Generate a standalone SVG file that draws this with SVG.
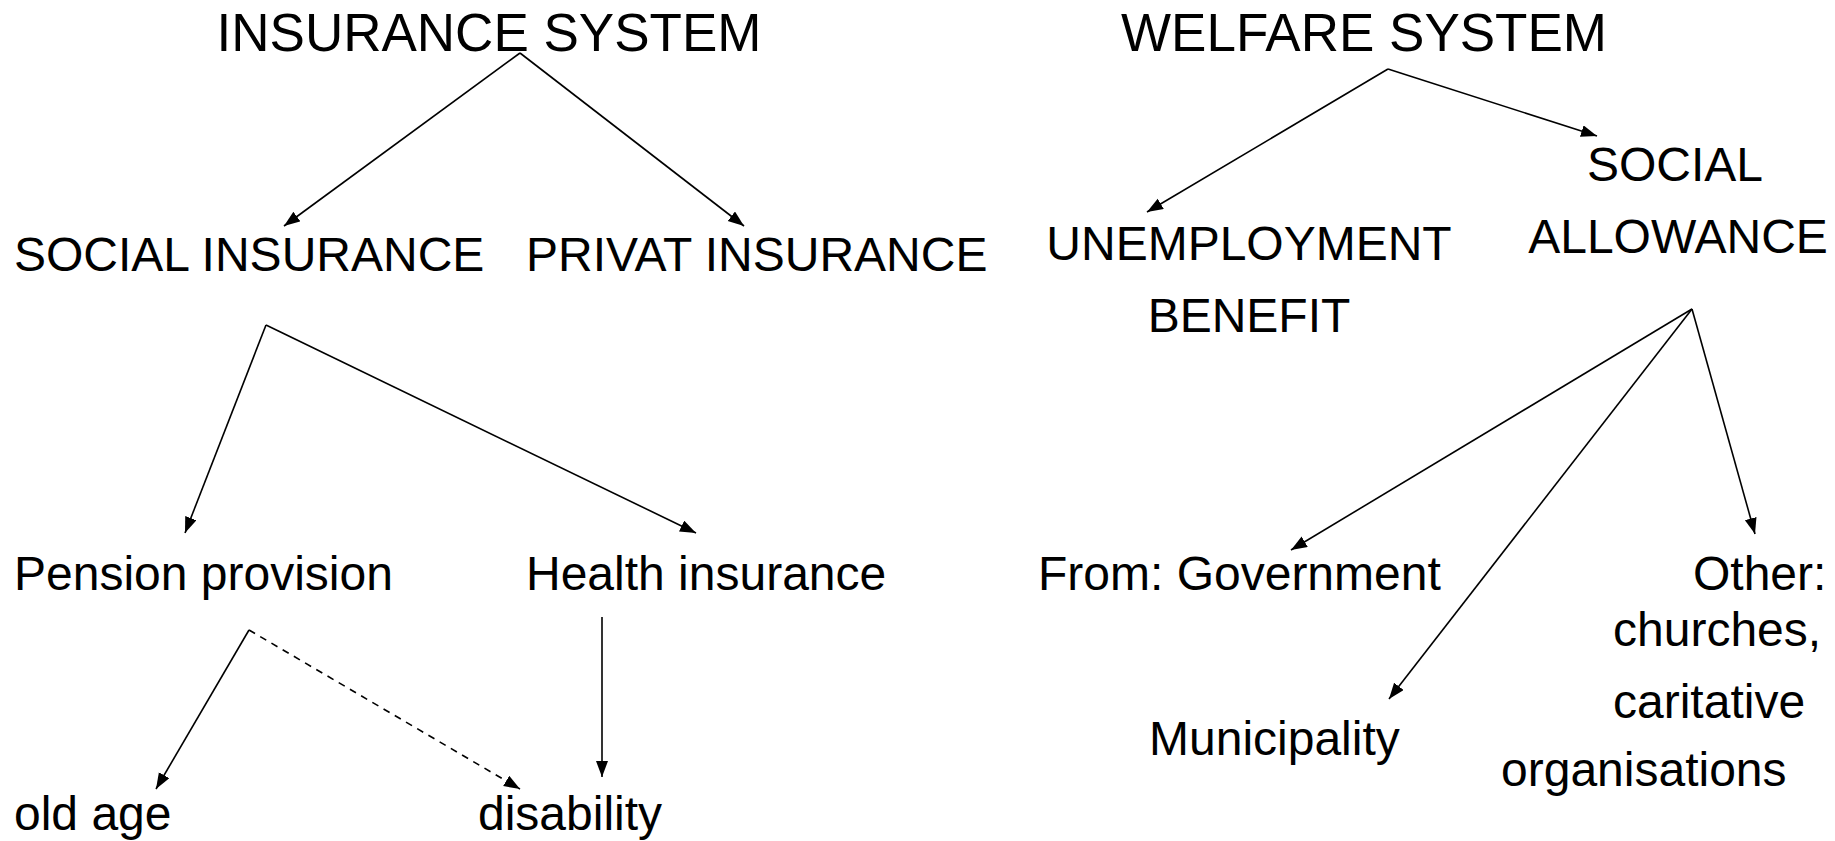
<svg xmlns="http://www.w3.org/2000/svg" width="1835" height="841" viewBox="0 0 1835 841">
<style>
text{font-family:"Liberation Sans",Arial,sans-serif;fill:#000}
.t{font-size:53px}
.n{font-size:48px}
.c{text-anchor:middle}
.e{stroke:#000;stroke-width:1.6;fill:none}
.d{stroke-dasharray:7 6}
</style>
<defs>
<marker id="ah" markerUnits="userSpaceOnUse" markerWidth="18" markerHeight="14" refX="16" refY="6" orient="auto">
<path d="M0,0 L16,6 L0,12 Z" fill="#000"/>
</marker>
</defs>
<rect width="1835" height="841" fill="#fff"/>
<g id="connectors">
<line class="e" x1="520" y1="53" x2="284" y2="226" marker-end="url(#ah)"/>
<line class="e" x1="520" y1="53" x2="744" y2="226" marker-end="url(#ah)"/>
<line class="e" x1="1388" y1="69" x2="1147" y2="212" marker-end="url(#ah)"/>
<line class="e" x1="1388" y1="69" x2="1597" y2="136" marker-end="url(#ah)"/>
<line class="e" x1="266" y1="325" x2="185" y2="533" marker-end="url(#ah)"/>
<line class="e" x1="266" y1="325" x2="696" y2="533" marker-end="url(#ah)"/>
<line class="e" x1="249" y1="630" x2="156" y2="789" marker-end="url(#ah)"/>
<line class="e d" x1="249" y1="630" x2="520" y2="789" marker-end="url(#ah)"/>
<line class="e" x1="602" y1="617" x2="602" y2="777" marker-end="url(#ah)"/>
<line class="e" x1="1692" y1="309" x2="1291" y2="550" marker-end="url(#ah)"/>
<line class="e" x1="1692" y1="309" x2="1389" y2="699" marker-end="url(#ah)"/>
<line class="e" x1="1692" y1="309" x2="1755" y2="534" marker-end="url(#ah)"/>
</g>
<g id="insurance-system"><text class="t c" x="489" y="51">INSURANCE SYSTEM</text></g>
<g id="welfare-system"><text class="t c" x="1364" y="51">WELFARE SYSTEM</text></g>
<g id="social-insurance"><text class="n" x="14" y="271">SOCIAL INSURANCE</text></g>
<g id="privat-insurance"><text class="n" x="526" y="271">PRIVAT INSURANCE</text></g>
<g id="unemployment-benefit"><text class="n c" x="1249" y="260">UNEMPLOYMENT</text><text class="n c" x="1249" y="332">BENEFIT</text></g>
<g id="social-allowance"><text class="n c" x="1675" y="181">SOCIAL</text><text class="n c" x="1678" y="253">ALLOWANCE</text></g>
<g id="pension-provision"><text class="n" x="14" y="590">Pension provision</text></g>
<g id="health-insurance"><text class="n" x="526" y="590">Health insurance</text></g>
<g id="government"><text class="n" x="1038" y="590">From: Government</text></g>
<g id="other"><text class="n" x="1693" y="590">Other:</text><text class="n" x="1613" y="646">churches,</text><text class="n" x="1613" y="718">caritative</text><text class="n" x="1501" y="786">organisations</text></g>
<g id="municipality"><text class="n" x="1149" y="755">Municipality</text></g>
<g id="old-age"><text class="n" x="14" y="830">old age</text></g>
<g id="disability"><text class="n" x="478" y="830">disability</text></g>
</svg>
